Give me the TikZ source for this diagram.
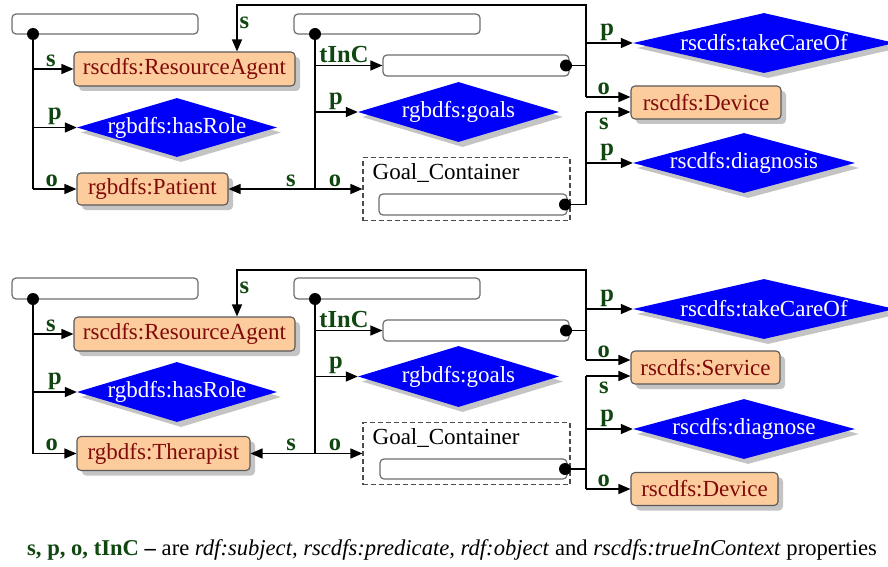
\documentclass[tikz,border=0pt]{standalone}
\usepackage{fontspec}
\setmainfont{Liberation Serif}
\usetikzlibrary{shapes.geometric,arrows.meta,shadows}

\definecolor{peach}{RGB}{253,204,156}
\definecolor{boxtext}{RGB}{128,10,10}
\definecolor{propblue}{RGB}{0,0,250}
\definecolor{lblgreen}{RGB}{16,70,16}
\definecolor{slotgray}{RGB}{110,110,110}
\definecolor{shadowgray}{RGB}{196,196,196}

\newcommand{\boxfont}{\fontsize{23}{24}\selectfont}
\newcommand{\lblfont}{\fontsize{24.5}{25}\selectfont\bfseries}
\newcommand{\legfont}{\fontsize{22.6}{24}\selectfont}
\newcommand{\dtext}[1]{\makebox[0pt]{#1}}

\tikzset{
  cls/.style={draw=black!65, line width=1.1pt, fill=peach, rounded corners=4pt,
    text=boxtext, font=\boxfont, inner sep=0pt,
    drop shadow={shadow xshift=5pt, shadow yshift=-5pt, fill=shadowgray, opacity=1}},
  prop/.style={diamond, fill=propblue, text=white, font=\boxfont, inner sep=0pt,
    drop shadow={shadow xshift=4pt, shadow yshift=-5pt, fill=shadowgray, opacity=1}},
  slot/.style={draw=slotgray, line width=1.2pt, fill=white, rounded corners=4pt, inner sep=0pt},
  cont/.style={draw=black!70, dash pattern=on 5pt off 3pt, line width=1.1pt, inner sep=0pt},
  ctitle/.style={anchor=north west, inner sep=0pt, font=\boxfont, text=black, xshift=10pt, yshift=-6pt},
  dot/.style={circle, fill=black, inner sep=0pt, minimum size=12pt},
  wire/.style={line width=1.4pt},
  link/.style={wire, -{Triangle[length=12pt,width=10pt]}},
  lbl/.style={font=\lblfont, text=lblgreen, inner sep=2pt, anchor=south},
}

\begin{document}
\begin{tikzpicture}[x=1pt, y=-1pt]
\useasboundingbox (0,0) rectangle (888,567);
\clip (0,0) rectangle (888,567);
\fill[white] (0,0) rectangle (888,567);

% ================= upper statement group =================
\node[slot, minimum width=186pt, minimum height=20pt] (s1) at (105,24) {};
\node[slot, minimum width=186pt, minimum height=20pt] (s2) at (387,24) {};
\node[dot] (d1) at (33,34) {};
\node[dot] (d2) at (315,34) {};

\node[cls, minimum width=221pt, minimum height=34pt] (ra1) at (184.5,69) {rscdfs:ResourceAgent};
\node[prop, minimum width=200pt, minimum height=59pt] (hr1) at (177,127.5) {\dtext{rgbdfs:hasRole}};
\node[cls, minimum width=151pt, minimum height=32pt] (pat) at (152.5,189) {rgbdfs:Patient};

\node[slot, minimum width=186pt, minimum height=21pt] (t1) at (476,65.5) {};
\node[dot] (t1d) at (566,65.5) {};
\node[prop, minimum width=201pt, minimum height=60pt] (go1) at (458.5,112) {\dtext{rgbdfs:goals}};
\node[cont, minimum width=207pt, minimum height=63pt,
      label={[ctitle]north west:Goal\_Container}] (gc1) at (466.5,189) {};
\node[slot, minimum width=188pt, minimum height=21pt] (g1) at (473,204.5) {};
\node[dot] (g1d) at (565,204.5) {};

\node[prop, minimum width=262pt, minimum height=60pt] (tc1) at (764,43) {\dtext{rscdfs:takeCareOf}};
\node[cls, minimum width=150pt, minimum height=33pt] (dev1) at (706,102.5) {rscdfs:Device};
\node[prop, minimum width=222pt, minimum height=60pt] (dg1) at (744,163) {\dtext{rscdfs:diagnosis}};

\coordinate (j3) at (586,65.5);
\coordinate (j4) at (586,204.5);
\coordinate (top1) at (586,5);
\coordinate (ra1s) at ([xshift=52.5pt]ra1.north);
\coordinate (dev1o) at ([yshift=5.5pt]dev1.west);
\coordinate (dev1s) at ([yshift=-9.5pt]dev1.west);

% first reified statement
\draw[wire] (d1.center) -- (d1 |- pat);
\draw[link] (d1 |- ra1) -- node[lbl, pos=.44] {s} (ra1);
\draw[link] (d1 |- hr1) -- node[lbl, pos=.5] {p} (hr1);
\draw[link] (d1 |- pat) -- node[lbl, pos=.43] {o} (pat);

% second reified statement
\draw[wire] (d2.center) -- (d2 |- gc1);
\draw[link] (d2 |- t1) -- node[lbl, pos=.43] {tInC} (t1);
\draw[link] (d2 |- go1) -- node[lbl, pos=.49] {p} (go1);
\draw[link] (d2 |- gc1) -- node[lbl, pos=.42] {o} (gc1);
\draw[link] (d2 |- pat) -- node[lbl, pos=.28] {s} (pat);

% statement held in context
\draw[wire] (t1d.center) -- (j3) -- (j3 |- dev1o);
\draw[link] (j3) -- (top1) -| node[lbl, anchor=west, pos=.69] {s} (ra1s);
\draw[link] (j3 |- tc1) -- node[lbl, pos=.45] {p} (tc1);
\draw[link] (j3 |- dev1o) -- node[lbl, pos=.4] {o} (dev1o);

% statement inside the goal container
\draw[wire] (g1d.center) -- (j4) -- (j4 |- dev1s);
\draw[link] (j4 |- dev1s) -- node[lbl, anchor=north, yshift=-3pt, pos=.4] {s} (dev1s);
\draw[link] (j4 |- dg1) -- node[lbl, pos=.45] {p} (dg1);

% ================= lower statement group =================
\node[slot, minimum width=186pt, minimum height=21pt] (s1b) at (105,288.5) {};
\node[slot, minimum width=186pt, minimum height=21pt] (s2b) at (387,288.5) {};
\node[dot] (d1b) at (33,299) {};
\node[dot] (d2b) at (315,299) {};

\node[cls, minimum width=221pt, minimum height=34pt] (ra2) at (184.5,334) {rscdfs:ResourceAgent};
\node[prop, minimum width=200pt, minimum height=60pt] (hr2) at (177,392) {\dtext{rgbdfs:hasRole}};
\node[cls, minimum width=173pt, minimum height=34pt] (ther) at (163.5,453.5) {rgbdfs:Therapist};

\node[slot, minimum width=186pt, minimum height=21pt] (t2) at (476,330.5) {};
\node[dot] (t2d) at (566,330.5) {};
\node[prop, minimum width=201pt, minimum height=61pt] (go2) at (458.5,376.5) {\dtext{rgbdfs:goals}};
\node[cont, minimum width=207pt, minimum height=62pt,
      label={[ctitle]north west:Goal\_Container}] (gc2) at (466.5,453.5) {};
\node[slot, minimum width=187pt, minimum height=20pt] (g2) at (473.5,469) {};
\node[dot] (g2d) at (565,469) {};

\node[prop, minimum width=262pt, minimum height=60pt] (tc2) at (764,309) {\dtext{rscdfs:takeCareOf}};
\node[cls, minimum width=149pt, minimum height=33pt] (serv) at (705.5,367.5) {rscdfs:Service};
\node[prop, minimum width=222pt, minimum height=60pt] (dg2) at (744,429) {\dtext{rscdfs:diagnose}};
\node[cls, minimum width=147pt, minimum height=33pt] (dev2) at (704.5,489) {rscdfs:Device};

\coordinate (j3b) at (586,330.5);
\coordinate (j4b) at (586,469);
\coordinate (top2) at (586,270);
\coordinate (ra2s) at ([xshift=52.5pt]ra2.north);
\coordinate (servo) at ([yshift=7.5pt]serv.west);
\coordinate (servs) at ([yshift=-8.5pt]serv.west);

% first reified statement
\draw[wire] (d1b.center) -- (d1b |- ther);
\draw[link] (d1b |- ra2) -- node[lbl, pos=.44] {s} (ra2);
\draw[link] (d1b |- hr2) -- node[lbl, pos=.5] {p} (hr2);
\draw[link] (d1b |- ther) -- node[lbl, pos=.43] {o} (ther);

% second reified statement
\draw[wire] (d2b.center) -- (d2b |- gc2);
\draw[link] (d2b |- t2) -- node[lbl, pos=.43] {tInC} (t2);
\draw[link] (d2b |- go2) -- node[lbl, pos=.49] {p} (go2);
\draw[link] (d2b |- gc2) -- node[lbl, pos=.42] {o} (gc2);
\draw[link] (d2b |- ther) -- node[lbl, pos=.37] {s} (ther);

% statement held in context
\draw[wire] (t2d.center) -- (j3b) -- (j3b |- servo);
\draw[link] (j3b) -- (top2) -| node[lbl, anchor=west, pos=.69] {s} (ra2s);
\draw[link] (j3b |- tc2) -- node[lbl, pos=.45] {p} (tc2);
\draw[link] (j3b |- servo) -- node[lbl, pos=.4] {o} (servo);

% statement inside the goal container
\draw[wire] (j4b |- servs) -- (j4b |- dev2);
\draw[wire] (g2d.center) -- (j4b);
\draw[link] (j4b |- servs) -- node[lbl, anchor=north, yshift=-3pt, pos=.4] {s} (servs);
\draw[link] (j4b |- dg2) -- node[lbl, pos=.45] {p} (dg2);
\draw[link] (j4b |- dev2) -- node[lbl, pos=.4] {o} (dev2);

% ================= legend =================
\node[anchor=base west, inner sep=0pt, font=\legfont] (legend) at (27,555)
  {{\color{lblgreen}\bfseries s, p, o, tInC} \textbf{\textendash} are
   \textit{rdf:subject, rscdfs:predicate, rdf:object} and
   \textit{rscdfs:trueInContext} properties};
\end{tikzpicture}
\end{document}
